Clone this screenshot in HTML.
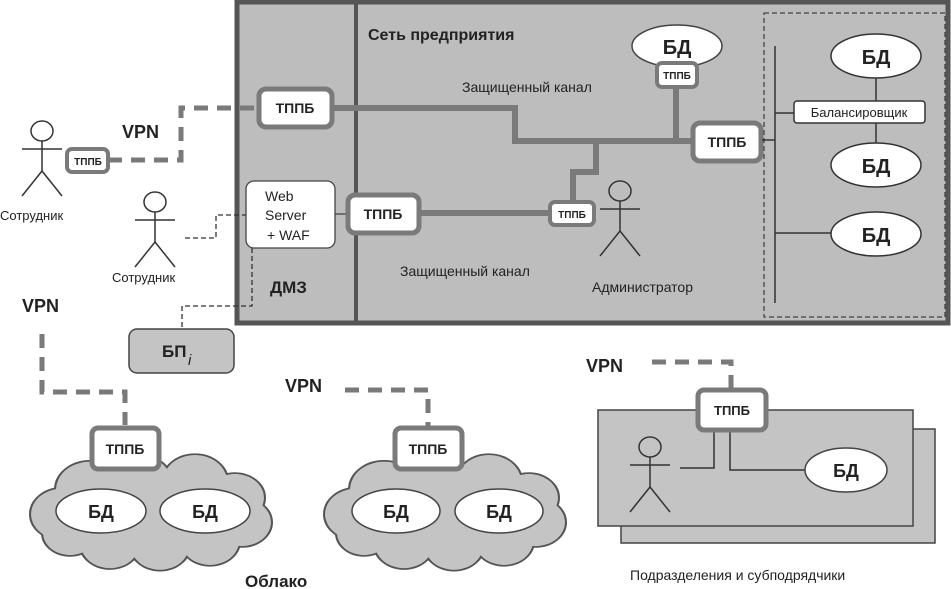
<!DOCTYPE html>
<html><head><meta charset="utf-8"><style>
html,body{margin:0;padding:0;background:#fff}
svg{display:block}
text{font-family:"Liberation Sans",sans-serif;fill:#222}
.b{font-weight:bold}
</style></head><body>
<svg width="951" height="589" viewBox="0 0 951 589" xmlns="http://www.w3.org/2000/svg">
<defs>
<g id="cloudS" stroke="#555" stroke-width="2">
<circle cx="-88" cy="5" r="32"/><circle cx="-60" cy="-25" r="35"/><circle cx="-10" cy="-35" r="32"/><circle cx="45" cy="-35" r="33"/><circle cx="85" cy="-15" r="30"/><circle cx="92" cy="15" r="30"/><circle cx="60" cy="38" r="30"/><circle cx="10" cy="44" r="30"/><circle cx="-40" cy="42" r="30"/><circle cx="-80" cy="28" r="28"/>
</g>
<g id="cloudF" fill="#c4c4c4">
<circle cx="-88" cy="5" r="31"/><circle cx="-60" cy="-25" r="34"/><circle cx="-10" cy="-35" r="31"/><circle cx="45" cy="-35" r="32"/><circle cx="85" cy="-15" r="29"/><circle cx="92" cy="15" r="29"/><circle cx="60" cy="38" r="29"/><circle cx="10" cy="44" r="29"/><circle cx="-40" cy="42" r="29"/><circle cx="-80" cy="28" r="27"/><ellipse cx="0" cy="5" rx="95" ry="50"/>
</g>
<g id="man" stroke="#333" stroke-width="1.5" fill="none">
<ellipse cx="0" cy="0" rx="11" ry="10"/><line x1="0" y1="10" x2="0" y2="40"/><line x1="-20" y1="18" x2="20" y2="18"/><line x1="0" y1="40" x2="-20" y2="65"/><line x1="0" y1="40" x2="20" y2="65"/>
</g>
</defs>

<rect x="237" y="2" width="711" height="321" fill="#bdbdbd" stroke="#555" stroke-width="5"/>
<line x1="356" y1="2" x2="356" y2="323" stroke="#555" stroke-width="4"/>
<rect x="764" y="13" width="181" height="304" fill="none" stroke="#444" stroke-width="1.3" stroke-dasharray="5,3"/>
<text x="368" y="40" class="b" font-size="16">Сеть предприятия</text>
<text x="270" y="293" class="b" font-size="17">ДМЗ</text>
<text x="462" y="92" font-size="14">Защищенный канал</text>
<text x="400" y="276" font-size="14">Защищенный канал</text>
<text x="592" y="292" font-size="14">Администратор</text>

<g stroke="#7a7a7a" stroke-width="6" fill="none">
<polyline points="333,108 515,108 515,141 692,141"/>
<line x1="676" y1="86" x2="676" y2="141"/>
<polyline points="596,141 596,172 573,172 573,202"/>
<line x1="420" y1="213" x2="548" y2="213"/>
</g>
<g stroke="#7a7a7a" stroke-width="5" fill="none" stroke-dasharray="14,9">
<polyline points="108,160 181,160 181,108 258,108"/>
<polyline points="42,334 42,392 125,392 125,425"/>
<polyline points="345,390 428,390 428,427"/>
<polyline points="652,362 731,362 731,388"/>
</g>
<g stroke="#333" stroke-width="1.3" fill="none" stroke-dasharray="5,3">
<polyline points="185,238 216,238 216,215 246,215"/>
<polyline points="252,248 252,306 182,306 182,328"/>
</g>
<line x1="335" y1="214" x2="347" y2="214" stroke="#444" stroke-width="1.3"/>

<g stroke="#7a7a7a" stroke-width="5" fill="#fff">
<rect x="259" y="89" width="73" height="38" rx="7"/>
<rect x="348" y="195" width="71" height="38" rx="7"/>
<rect x="693" y="123" width="68" height="38" rx="7"/>
<rect x="550" y="202" width="44" height="23" rx="5" stroke-width="4"/>
<rect x="67" y="149" width="41" height="23" rx="5" stroke-width="4"/>
</g>
<ellipse cx="677" cy="46" rx="45" ry="21" fill="#fff" stroke="#444" stroke-width="1.5"/>
<text x="677" y="54" text-anchor="middle" class="b" font-size="20">БД</text>
<rect x="657" y="63" width="40" height="24" rx="5" fill="#fff" stroke="#7a7a7a" stroke-width="4"/>
<g text-anchor="middle" class="b">
<text x="295" y="113" font-size="14">ТППБ</text>
<text x="383" y="219" font-size="14">ТППБ</text>
<text x="727" y="147" font-size="14">ТППБ</text>
<text x="572" y="218" font-size="10">ТППБ</text>
<text x="677" y="79" font-size="10">ТППБ</text>
<text x="88" y="165" font-size="10">ТППБ</text>
</g>
<rect x="246" y="181" width="89" height="67" rx="8" fill="#fff" stroke="#444" stroke-width="1.3"/>
<text x="265" y="201" font-size="14">Web</text>
<text x="265" y="220" font-size="14">Server</text>
<text x="267" y="240" font-size="14">+ WAF</text>

<g stroke="#333" stroke-width="1.5">
<line x1="775" y1="46" x2="775" y2="303"/>
<line x1="762" y1="140" x2="775" y2="140"/>
<line x1="775" y1="113" x2="794" y2="113"/>
<line x1="775" y1="233" x2="831" y2="233"/>
<line x1="876" y1="78" x2="876" y2="143"/>
</g>
<g fill="#fff" stroke="#333" stroke-width="1.5">
<ellipse cx="876" cy="56" rx="45" ry="22"/>
<ellipse cx="876" cy="165" rx="45" ry="22"/>
<ellipse cx="876" cy="234" rx="45" ry="22"/>
<rect x="794" y="101" width="131" height="22" rx="3"/>
</g>
<g text-anchor="middle" class="b" font-size="20">
<text x="876" y="64">БД</text><text x="876" y="173">БД</text><text x="876" y="242">БД</text>
</g>
<text x="859" y="117" text-anchor="middle" font-size="13">Балансировщик</text>

<use href="#man" x="42" y="131"/>
<use href="#man" x="155" y="202"/>
<use href="#man" x="620" y="191"/>
<text x="0" y="220" font-size="13">Сотрудник</text>
<text x="112" y="282" font-size="13">Сотрудник</text>
<text x="122" y="138" class="b" font-size="18">VPN</text>
<text x="22" y="312" class="b" font-size="18">VPN</text>
<text x="285" y="392" class="b" font-size="18">VPN</text>
<text x="586" y="372" class="b" font-size="18">VPN</text>

<rect x="129" y="329" width="105" height="44" rx="8" fill="#c4c4c4" stroke="#444" stroke-width="1.5"/>
<text x="162" y="357" class="b" font-size="17">БП</text>
<text x="188" y="365" font-size="15" font-style="italic">i</text>

<g transform="translate(150,510) scale(1,0.82)"><use href="#cloudS"/><use href="#cloudF"/></g>
<g transform="translate(444,510) scale(1,0.82)"><use href="#cloudS"/><use href="#cloudF"/></g>
<g fill="#fff" stroke="#444" stroke-width="1.5">
<ellipse cx="101" cy="511" rx="45" ry="22"/><ellipse cx="205" cy="511" rx="45" ry="22"/>
<ellipse cx="396" cy="511" rx="44" ry="22"/><ellipse cx="499" cy="511" rx="44" ry="22"/>
</g>
<g text-anchor="middle" class="b" font-size="18">
<text x="101" y="518">БД</text><text x="205" y="518">БД</text>
<text x="396" y="518">БД</text><text x="499" y="518">БД</text>
</g>
<g stroke="#7a7a7a" stroke-width="5" fill="#fff">
<rect x="92" y="428" width="67" height="41" rx="6"/>
<rect x="395" y="428" width="67" height="41" rx="6"/>
</g>
<g text-anchor="middle" class="b" font-size="14">
<text x="125" y="454">ТППБ</text><text x="428" y="454">ТППБ</text>
</g>
<text x="245" y="587" class="b" font-size="17">Облако</text>

<rect x="621" y="429" width="314" height="114" fill="#c4c4c4" stroke="#444" stroke-width="1.5"/>
<rect x="598" y="410" width="315" height="116" fill="#c4c4c4" stroke="#444" stroke-width="1.5"/>
<use href="#man" x="650" y="447"/>
<g stroke="#333" stroke-width="1.5" fill="none">
<polyline points="714,430 714,468 680,468"/>
<polyline points="730,430 730,470 806,470"/>
</g>
<ellipse cx="846" cy="470" rx="41" ry="22" fill="#fff" stroke="#444" stroke-width="1.5"/>
<text x="846" y="477" text-anchor="middle" class="b" font-size="18">БД</text>
<rect x="698" y="390" width="68" height="40" rx="6" fill="#fff" stroke="#7a7a7a" stroke-width="5"/>
<text x="732" y="415" text-anchor="middle" class="b" font-size="13">ТППБ</text>
<text x="630" y="580" font-size="14">Подразделения и субподрядчики</text>
</svg>
</body></html>
